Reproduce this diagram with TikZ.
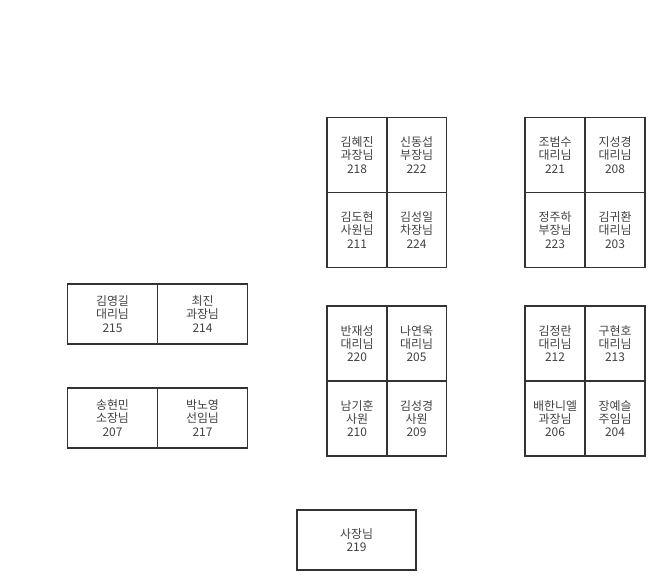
\documentclass[tikz,border=0pt]{standalone}
\usepackage{fontspec}
\setmainfont{Noto Sans CJK KR}
\usepackage{tikz}

\begin{document}
\begin{tikzpicture}[x=0.02cm,y=-0.02cm,every node/.style={rectangle,draw=black!80,line width=1.1pt,text=black!75,align=center,inner sep=0pt,font=\fontsize{6.8}{7.6}\selectfont},desk/.style={minimum width=1.2cm,minimum height=1.5cm},wide/.style={minimum width=1.8cm,minimum height=1.2cm}]
  \useasboundingbox (0,0) rectangle (665,580);

  \node[desk] (218) at (357,155) {김혜진\\과장님\\218};
  \node[desk] (222) at (416.5,155) {신동섭\\부장님\\222};
  \node[desk] (211) at (357,230) {김도현\\사원님\\211};
  \node[desk] (224) at (416.5,230) {김성일\\차장님\\224};

  \node[desk] (221) at (555,155) {조범수\\대리님\\221};
  \node[desk] (208) at (615,155) {지성경\\대리님\\208};
  \node[desk] (223) at (555,230) {정주하\\부장님\\223};
  \node[desk] (203) at (615,230) {김귀환\\대리님\\203};

  \node[desk] (220) at (357,343.5) {반재성\\대리님\\220};
  \node[desk] (205) at (416.5,343.5) {나연욱\\대리님\\205};
  \node[desk] (210) at (357,418.5) {남기훈\\사원\\210};
  \node[desk] (209) at (416.5,418.5) {김성경\\사원\\209};

  \node[desk] (212) at (555,343.5) {김정란\\대리님\\212};
  \node[desk] (213) at (615,343.5) {구현호\\대리님\\213};
  \node[desk] (206) at (555,418.5) {배한니엘\\과장님\\206};
  \node[desk] (204) at (615,418.5) {장예슬\\주임님\\204};

  \node[wide] (215) at (112.5,314) {김영길\\대리님\\215};
  \node[wide] (214) at (202.5,314) {최진\\과장님\\214};
  \node[wide] (207) at (112.5,418) {송현민\\소장님\\207};
  \node[wide] (217) at (202.5,418) {박노영\\선임님\\217};

  \node[wide,minimum width=2.38cm] (219) at (356.5,540) {사장님\\219};
\end{tikzpicture}
\end{document}
